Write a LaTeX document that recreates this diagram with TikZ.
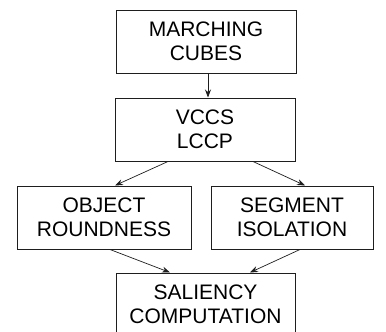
\documentclass[tikz,border=0pt]{standalone}
\usepackage{fontspec}
\setmainfont{Liberation Sans}
\usetikzlibrary{positioning, arrows.meta}
\definecolor{LineGray}{RGB}{30, 30, 30}

\begin{document}
\begin{tikzpicture}[
    x=1pt, y=1pt,
    stage/.style={rectangle, draw=LineGray, line width=1pt, minimum height=63pt,
      align=center, inner sep=0pt, font=\fontsize{21}{24}\selectfont},
    arrow/.style={-{Stealth[length=8pt, width=6pt]}, line width=0.7pt, LineGray}
  ]
    \useasboundingbox (0,0) rectangle (386,-332);

    % Stages
    \node[stage, minimum width=180pt] (mc) at (206, -41.5) {MARCHING\\CUBES};
    \node[stage, minimum width=180pt] (vccs) at (205, -129.5) {VCCS\\LCCP};
    \node[stage, minimum width=174pt] (round) at (104, -217.5) {OBJECT\\ROUNDNESS};
    \node[stage, minimum width=162pt] (iso) at (292, -217.5) {SEGMENT\\ISOLATION};
    \node[stage, minimum width=179pt] (sal) at (205.5, -304.5) {SALIENCY\\COMPUTATION};

    % Connections
    \draw[arrow] ([xshift=2pt]mc.south) -- ([xshift=3pt]vccs.north);
    \draw[arrow] ([xshift=-37pt]vccs.south) -- ([xshift=11pt]round.north);
    \draw[arrow] ([xshift=48pt]vccs.south) -- ([xshift=13pt]iso.north);
    \draw[arrow] ([xshift=6pt]round.south) -- ([xshift=-35.5pt]sal.north);
    \draw[arrow] ([xshift=8pt]iso.south) -- ([xshift=44.5pt]sal.north);
  \end{tikzpicture}
\end{document}
